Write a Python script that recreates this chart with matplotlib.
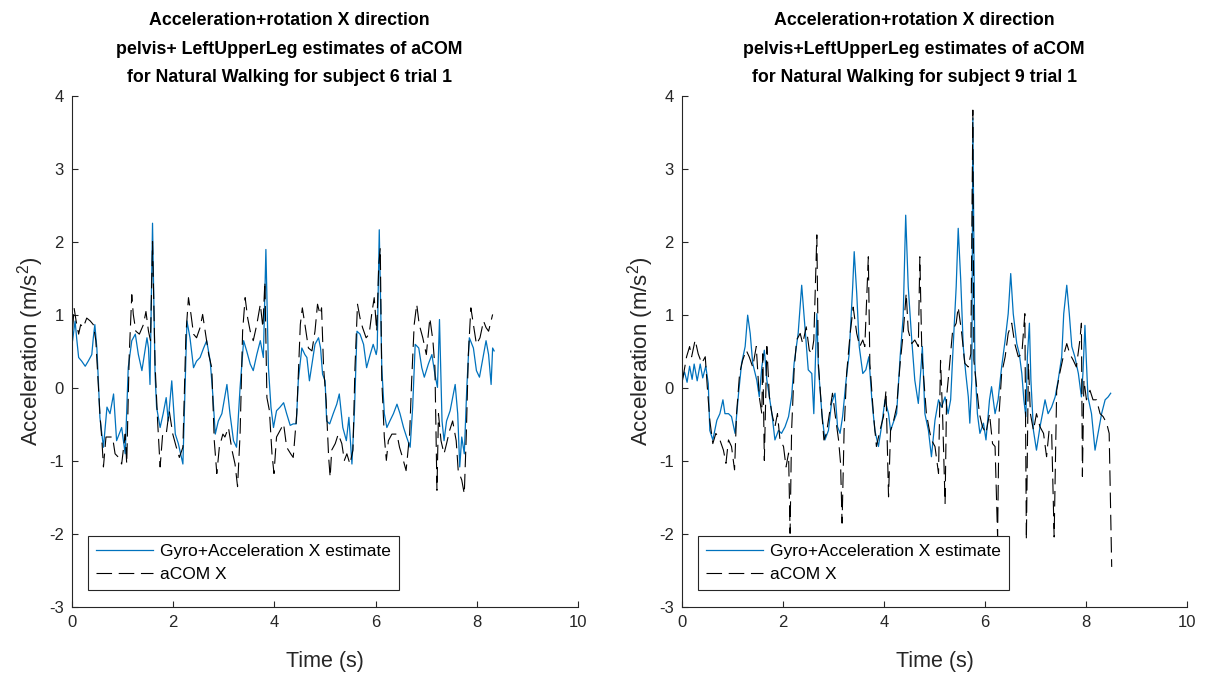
import numpy as np
import matplotlib
matplotlib.use('Agg')
import matplotlib.pyplot as plt

# subject 6, trial 1
t6_est = [0.01, 0.06, 0.09, 0.13, 0.19, 0.26, 0.32, 0.39, 0.42, 0.45, 0.49, 0.52, 0.55, 0.62, 0.69, 0.75,
          0.82, 0.88, 0.98, 1.05, 1.11, 1.18, 1.25, 1.31, 1.38, 1.44, 1.48, 1.51, 1.54, 1.59, 1.64, 1.67,
          1.74, 1.80, 1.86, 1.90, 1.97, 2.04, 2.10, 2.19, 2.27, 2.33, 2.40, 2.46, 2.53, 2.60, 2.66, 2.73,
          2.78, 2.83, 2.89, 2.96, 3.06, 3.12, 3.19, 3.25, 3.32, 3.39, 3.45, 3.52, 3.58, 3.65, 3.72, 3.78,
          3.83, 3.88, 3.93, 3.98, 4.04, 4.11, 4.18, 4.24, 4.31, 4.37, 4.43, 4.47, 4.54, 4.60, 4.64, 4.69,
          4.76, 4.80, 4.87, 4.91, 4.95, 5.00, 5.03, 5.09, 5.16, 5.23, 5.28, 5.35, 5.42, 5.47, 5.53, 5.58,
          5.63, 5.69, 5.76, 5.82, 5.89, 5.95, 6.01, 6.03, 6.07, 6.12, 6.17, 6.22, 6.28, 6.35, 6.42, 6.48,
          6.55, 6.61, 6.68, 6.73, 6.78, 6.85, 6.91, 6.96, 7.04, 7.11, 7.17, 7.22, 7.26, 7.31, 7.35, 7.40,
          7.47, 7.52, 7.57, 7.62, 7.66, 7.70, 7.75, 7.80, 7.85, 7.93, 7.99, 8.05, 8.12, 8.18, 8.23, 8.28,
          8.31, 8.34]
a6_est = [0.65, 0.92, 0.69, 0.42, 0.37, 0.30, 0.37, 0.46, 0.69, 0.87, 0.55, 0.10, -0.40, -0.81, -0.26, -0.35,
          -0.08, -0.72, -0.54, -0.90, 0.28, 0.65, 0.74, 0.46, 0.24, 0.51, 0.69, 0.55, 0.05, 2.26, 0.19, -0.26,
          -0.54, -0.35, -0.13, -0.45, 0.10, -0.63, -0.76, -1.04, 0.92, 0.69, 0.28, 0.37, 0.42, 0.55, 0.65, 0.37,
          -0.08, -0.63, -0.45, -0.35, 0.05, -0.35, -0.72, -0.81, 0.01, 0.65, 0.51, 0.33, 0.24, 0.46, 0.65, 0.42,
          1.90, 0.28, -0.26, -0.54, -0.31, -0.26, -0.20, -0.35, -0.51, -0.49, -0.49, 0.10, 0.55, 0.46, 0.42, 0.10,
          0.42, 0.60, 0.69, 0.55, 0.19, 0.10, -0.45, -0.49, -0.35, -0.22, -0.08, -0.54, -0.72, -0.40, -1.04, -0.31,
          0.78, 0.74, 0.60, 0.28, 0.46, 0.60, 0.46, 0.55, 2.17, 0.28, -0.35, -0.54, -0.45, -0.35, -0.22, -0.35,
          -0.54, -0.67, -0.81, -0.26, 0.60, 0.55, 0.28, 0.15, 0.33, 0.46, 0.19, 0.01, 0.94, -0.45, -0.72, -0.45,
          -0.31, -0.13, 0.05, -0.35, -1.08, -0.67, -0.90, 0.01, 0.69, 0.55, 0.24, 0.15, 0.42, 0.65, 0.46, 0.05,
          0.55, 0.51]

t6_com = [0.01, 0.04, 0.08, 0.13, 0.17, 0.22, 0.29, 0.36, 0.42, 0.47, 0.52, 0.55, 0.59, 0.62, 0.67, 0.74,
          0.80, 0.85, 0.92, 0.98, 1.05, 1.08, 1.13, 1.18, 1.21, 1.26, 1.33, 1.41, 1.46, 1.51, 1.55, 1.59,
          1.64, 1.69, 1.74, 1.79, 1.86, 1.92, 1.99, 2.06, 2.12, 2.19, 2.25, 2.30, 2.35, 2.40, 2.46, 2.53,
          2.58, 2.65, 2.70, 2.76, 2.81, 2.86, 2.91, 2.98, 3.02, 3.09, 3.16, 3.22, 3.27, 3.32, 3.37, 3.42,
          3.47, 3.52, 3.58, 3.65, 3.72, 3.77, 3.81, 3.85, 3.90, 3.95, 3.99, 4.04, 4.11, 4.18, 4.24, 4.32,
          4.37, 4.44, 4.51, 4.55, 4.61, 4.67, 4.74, 4.80, 4.85, 4.90, 4.93, 4.97, 5.02, 5.07, 5.10, 5.13,
          5.20, 5.26, 5.33, 5.38, 5.43, 5.49, 5.55, 5.59, 5.64, 5.69, 5.74, 5.81, 5.87, 5.92, 5.97, 6.02,
          6.06, 6.09, 6.12, 6.17, 6.21, 6.25, 6.32, 6.42, 6.47, 6.53, 6.60, 6.67, 6.71, 6.76, 6.81, 6.86,
          6.93, 7.00, 7.07, 7.13, 7.17, 7.21, 7.24, 7.29, 7.35, 7.40, 7.46, 7.52, 7.59, 7.63, 7.70, 7.75,
          7.79, 7.83, 7.88, 7.93, 7.99, 8.06, 8.13, 8.18, 8.23, 8.28, 8.31]
a6_com = [0.80, 1.10, 0.92, 0.74, 0.87, 0.83, 0.96, 0.92, 0.87, 0.65, 0.01, -0.35, -0.72, -1.08, -0.67, -0.67,
          -0.67, -0.90, -0.95, -1.04, -0.63, -1.04, 0.46, 1.28, 1.01, 0.78, 0.74, 0.87, 1.05, 0.78, 0.65, 2.01,
          0.33, -0.45, -1.08, -0.63, -0.63, -0.31, -0.63, -0.81, -0.95, -0.81, 0.74, 1.24, 1.01, 0.74, 0.69, 0.83,
          1.01, 0.69, 0.46, 0.28, -0.72, -1.17, -0.81, -0.63, -0.67, -0.54, -0.85, -1.04, -1.35, -0.63, 0.78, 1.24,
          0.96, 0.78, 0.65, 0.87, 1.15, 0.83, 1.46, -0.13, -0.31, -0.90, -1.17, -0.67, -0.58, -0.49, -0.81, -0.90,
          -0.95, -0.35, 0.87, 1.10, 0.83, 0.55, 0.51, 0.78, 1.15, 1.01, 1.10, 0.28, -0.17, -0.95, -1.22, -0.85,
          -0.76, -0.63, -0.76, -0.99, -0.90, -1.04, -0.85, 0.28, 1.15, 0.96, 0.83, 0.69, 0.74, 1.01, 1.24, 0.78,
          1.69, 1.92, 0.10, -0.67, -0.99, -0.72, -0.63, -0.63, -0.81, -0.95, -1.13, -0.63, 0.10, 0.87, 1.15, 0.87,
          0.69, 0.46, 0.96, 0.65, 0.28, -1.40, -0.35, -0.72, -0.90, -0.76, -0.58, -0.45, -0.72, -1.13, -1.26, -1.45,
          -0.63, 0.46, 1.10, 0.87, 0.60, 0.69, 0.92, 0.83, 0.78, 0.92, 1.01]

# subject 9, trial 1
t9_est = [0.00, 0.05, 0.10, 0.15, 0.20, 0.24, 0.30, 0.36, 0.41, 0.47, 0.52, 0.55, 0.61, 0.69, 0.75, 0.81,
          0.85, 0.92, 0.98, 1.05, 1.12, 1.18, 1.25, 1.30, 1.35, 1.40, 1.45, 1.48, 1.53, 1.58, 1.63, 1.68,
          1.73, 1.78, 1.84, 1.91, 1.97, 2.04, 2.11, 2.17, 2.22, 2.30, 2.37, 2.44, 2.50, 2.57, 2.61, 2.67,
          2.70, 2.77, 2.83, 2.90, 2.96, 3.03, 3.08, 3.13, 3.18, 3.25, 3.31, 3.38, 3.41, 3.46, 3.51, 3.58,
          3.64, 3.70, 3.76, 3.82, 3.89, 3.95, 4.02, 4.09, 4.13, 4.20, 4.25, 4.32, 4.38, 4.43, 4.48, 4.55,
          4.61, 4.68, 4.73, 4.76, 4.81, 4.88, 4.94, 5.01, 5.08, 5.14, 5.21, 5.27, 5.32, 5.37, 5.43, 5.47,
          5.52, 5.57, 5.62, 5.67, 5.70, 5.74, 5.76, 5.80, 5.85, 5.90, 5.97, 6.02, 6.09, 6.13, 6.20, 6.26,
          6.33, 6.40, 6.46, 6.51, 6.56, 6.63, 6.68, 6.73, 6.77, 6.81, 6.84, 6.88, 6.91, 6.96, 7.02, 7.09,
          7.14, 7.19, 7.25, 7.32, 7.39, 7.45, 7.52, 7.56, 7.62, 7.67, 7.72, 7.78, 7.85, 7.91, 7.94, 7.98,
          8.01, 8.04, 8.11, 8.18, 8.24, 8.31, 8.38, 8.44, 8.49]
a9_est = [0.12, 0.22, 0.08, 0.30, 0.12, 0.33, 0.10, 0.33, 0.14, 0.30, 0.06, -0.58, -0.71, -0.44, -0.35, -0.16,
          -0.35, -0.35, -0.39, -0.62, -0.07, 0.34, 0.57, 1.00, 0.75, 0.34, 0.20, 0.11, -0.12, 0.29, 0.52, 0.11,
          -0.12, -0.35, -0.71, -0.58, -0.62, -0.53, -0.39, -0.12, 0.34, 0.75, 1.41, 0.79, 0.25, 0.20, -0.35, 1.02,
          0.29, -0.35, -0.71, -0.58, -0.21, -0.07, -0.53, -0.62, -0.39, 0.11, 0.47, 1.39, 1.87, 1.30, 0.57, 0.20,
          0.25, 0.43, -0.16, -0.58, -0.80, -0.53, -0.16, -0.35, -0.58, -0.44, -0.35, 0.43, 0.98, 2.37, 1.39, 0.66,
          0.11, -0.21, 0.25, 0.57, -0.35, -0.58, -0.94, -0.44, -0.16, -0.26, -0.12, -0.35, -0.16, 0.57, 1.39, 2.19,
          1.48, 0.57, 0.20, -0.12, -0.48, 0.11, 3.70, 0.34, -0.35, -0.62, -0.48, -0.71, -0.16, 0.02, -0.35, -0.16,
          0.29, 0.66, 1.02, 1.57, 1.02, 0.61, 0.47, 0.20, -0.16, -0.39, 0.43, 0.89, 0.11, -0.58, -0.85, -0.53,
          -0.35, -0.16, -0.35, -0.26, -0.12, 0.11, 0.43, 1.02, 1.41, 1.02, 0.57, 0.43, 0.20, -0.12, 0.20, 0.86,
          0.34, -0.12, -0.35, -0.85, -0.62, -0.35, -0.16, -0.12, -0.07]

t9_com = [0.01, 0.09, 0.15, 0.19, 0.26, 0.32, 0.39, 0.46, 0.50, 0.55, 0.61, 0.67, 0.75, 0.82, 0.87, 0.92,
          0.98, 1.04, 1.08, 1.14, 1.20, 1.27, 1.33, 1.40, 1.47, 1.53, 1.58, 1.60, 1.63, 1.68, 1.73, 1.78,
          1.84, 1.89, 1.94, 2.01, 2.06, 2.11, 2.14, 2.17, 2.22, 2.27, 2.34, 2.39, 2.46, 2.52, 2.57, 2.61,
          2.67, 2.70, 2.77, 2.81, 2.86, 2.92, 2.98, 3.03, 3.10, 3.14, 3.17, 3.21, 3.26, 3.33, 3.39, 3.46,
          3.52, 3.58, 3.62, 3.69, 3.72, 3.79, 3.85, 3.92, 3.99, 4.04, 4.09, 4.13, 4.18, 4.25, 4.32, 4.38,
          4.44, 4.48, 4.55, 4.61, 4.68, 4.71, 4.75, 4.79, 4.84, 4.90, 4.94, 5.01, 5.08, 5.12, 5.16, 5.21,
          5.24, 5.29, 5.36, 5.43, 5.47, 5.54, 5.60, 5.67, 5.72, 5.76, 5.78, 5.82, 5.89, 5.95, 6.02, 6.09,
          6.15, 6.20, 6.25, 6.28, 6.33, 6.40, 6.46, 6.53, 6.59, 6.66, 6.73, 6.79, 6.82, 6.86, 6.90, 6.96,
          7.02, 7.09, 7.16, 7.22, 7.27, 7.32, 7.37, 7.42, 7.48, 7.55, 7.62, 7.68, 7.75, 7.81, 7.88, 7.91,
          7.93, 7.96, 8.01, 8.08, 8.14, 8.21, 8.28, 8.34, 8.41, 8.46, 8.51]
a9_com = [0.11, 0.43, 0.57, 0.43, 0.66, 0.47, 0.34, 0.43, 0.02, -0.44, -0.76, -0.62, -0.71, -0.85, -1.03, -0.71,
          -0.80, -1.12, -0.35, 0.20, 0.38, 0.52, 0.43, 0.29, 0.57, -0.12, -0.35, 0.47, -0.99, 0.57, -0.12, -0.35,
          -0.53, -0.35, -0.71, -0.80, -1.08, -0.89, -1.99, -0.58, 0.25, 0.66, 0.75, 0.61, 0.84, 0.52, 0.47, 0.66,
          2.10, 0.34, -0.35, -0.71, -0.62, -0.35, -0.07, -0.35, -0.71, -1.03, -1.85, -0.58, 0.20, 0.75, 1.11, 0.75,
          0.57, 0.66, 0.57, 1.80, 0.34, -0.35, -0.80, -0.58, -0.39, -0.03, -1.49, -0.58, -0.48, -0.26, 0.34, 0.75,
          1.30, 0.79, 0.61, 0.66, 0.57, 1.80, 0.47, 0.11, -0.35, -0.58, -0.71, -0.80, -1.17, 0.38, -0.35, -1.58,
          -0.12, 0.25, 0.79, 0.89, 1.11, 0.75, 0.34, 0.29, 0.47, 3.81, 0.38, 0.11, -0.35, -0.53, -0.62, -0.35,
          -0.76, -0.80, -2.04, -0.35, 0.20, 0.43, 0.75, 0.89, 0.61, 0.43, 0.47, 1.02, -2.08, 0.34, -0.35, -0.58,
          -0.35, -0.53, -0.62, -0.94, -0.58, -0.58, -2.04, -0.03, 0.20, 0.43, 0.61, 0.47, 0.38, 0.29, 0.66, 0.89,
          -1.21, 0.11, -0.16, -0.03, -0.16, -0.16, -0.35, -0.39, -0.48, -0.62, -2.45]

subjects = [6, 9]
gap = {6: ' ', 9: ''}
# horizontal anchor of each three-line title (axes fraction)
title_x = {6: 0.43, 9: 0.46}

blue = '#0072BD'
ink = '#262626'

plt.rcParams['font.family'] = ['Liberation Sans', 'DejaVu Sans']
plt.rcParams['mathtext.fontset'] = 'custom'
plt.rcParams['mathtext.rm'] = 'Liberation Sans'
plt.rcParams['mathtext.it'] = 'Liberation Sans'
plt.rcParams['axes.unicode_minus'] = False

fig = plt.figure(figsize=(12.05, 6.73), dpi=100)
axes = [fig.add_axes([0.0598, 0.098, 0.42, 0.759]),
        fig.add_axes([0.566, 0.098, 0.419, 0.759])]

data = [(t6_est, a6_est, t6_com, a6_com), (t9_est, a9_est, t9_com, a9_com)]

for ax, subj, (te, ae, tc, ac) in zip(axes, subjects, data):
    ax.plot(te, ae, color=blue, lw=0.9, label='Gyro+Acceleration X estimate')
    ax.plot(tc, ac, color='black', lw=0.8, dashes=(14, 6), label='aCOM X')
    ax.set_xlim(0, 10)
    ax.set_ylim(-3, 4)
    ax.set_xticks(range(0, 11, 2))
    ax.set_yticks(range(-3, 5))
    for s in ['top', 'right']:
        ax.spines[s].set_visible(False)
    for s in ['left', 'bottom']:
        ax.spines[s].set_color(ink)
        ax.spines[s].set_linewidth(0.8)
    ax.tick_params(direction='in', length=4, width=0.8, colors=ink, labelsize=12, pad=6)
    ax.set_xlabel('Time (s)', fontsize=15.5, color=ink, labelpad=15)
    ax.set_ylabel('Acceleration (m/s$^2$)', fontsize=16, color=ink, labelpad=2)
    ax.text(title_x[subj], 1.02,
            'Acceleration+rotation X direction\n'
            f'pelvis+{gap[subj]}LeftUpperLeg estimates of aCOM\n'
            f'for Natural Walking for subject {subj} trial 1',
            transform=ax.transAxes, ha='center', va='bottom', multialignment='center',
            fontsize=12.8, fontweight='bold', linespacing=1.88)
    leg = ax.legend(loc='lower left', bbox_to_anchor=(0.032, 0.033), borderaxespad=0,
                    fontsize=12.5, fancybox=False, edgecolor=ink, framealpha=1,
                    handlelength=3.3, borderpad=0.45, labelspacing=0.45, handletextpad=0.4)
    leg.get_frame().set_linewidth(0.8)

fig.savefig('out.png', dpi=100)
